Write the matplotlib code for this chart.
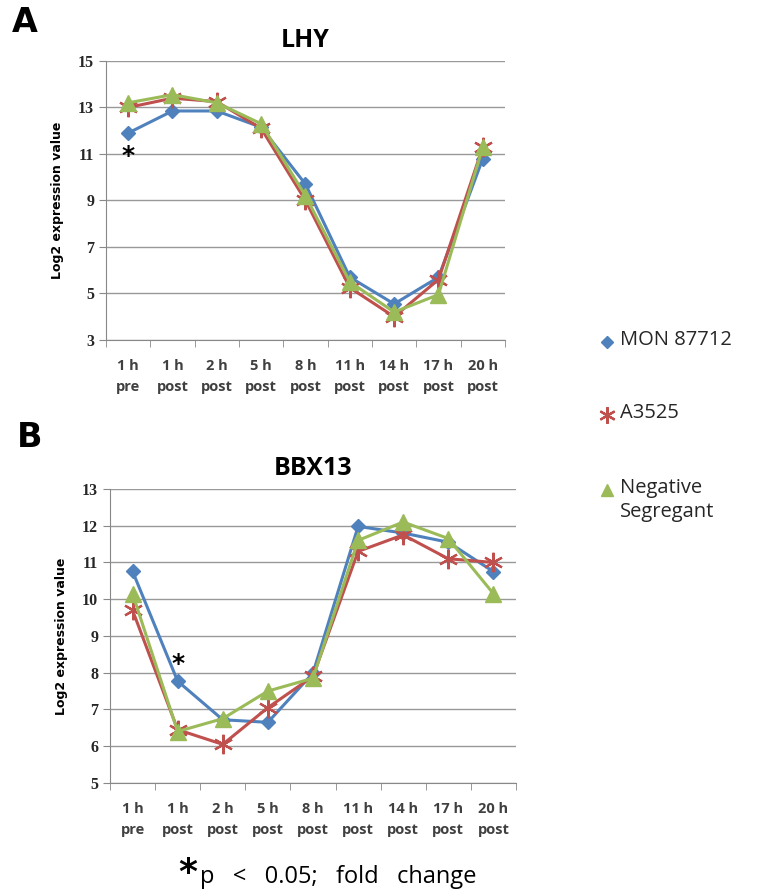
import matplotlib.pyplot as plt
from matplotlib.lines import Line2D

# Time points (two-line labels)
timepoints = ["1 h\npre", "1 h\npost", "2 h\npost", "5 h\npost", "8 h\npost",
              "11 h\npost", "14 h\npost", "17 h\npost", "20 h\npost"]
series_names = ["MON 87712", "A3525", "Negative\nSegregant"]

# LHY log2 expression
lhy_mon = [11.9, 12.85, 12.85, 12.15, 9.7, 5.7, 4.55, 5.7, 10.8]
lhy_a3525 = [13.0, 13.4, 13.25, 12.1, 9.0, 5.25, 4.0, 5.6, 11.3]
lhy_neg = [13.2, 13.55, 13.2, 12.3, 9.2, 5.5, 4.2, 4.95, 11.3]

# BBX13 log2 expression
bbx_mon = [10.76, 7.77, 6.72, 6.65, 7.99, 11.98, 11.8, 11.55, 10.75]
bbx_a3525 = [9.7, 6.45, 6.05, 7.05, 7.9, 11.3, 11.75, 11.1, 11.0]
bbx_neg = [10.15, 6.4, 6.75, 7.5, 7.85, 11.6, 12.1, 11.65, 10.15]

# significant points: (time index, y position of the star)
lhy_sig = (0, 10.9)
bbx_sig = (1, 8.25)

colors = ["#4F81BD", "#C0504D", "#9BBB59"]
markers = ["D", (6, 2, 0), "^"]
msizes = [7.5, 14, 11]
mews = [1.0, 1.6, 1.0]

plt.rcParams['font.family'] = ['Open Sans', 'DejaVu Sans']

fig = plt.figure(figsize=(7.58, 8.94), dpi=100)


def draw_panel(ax, data, ymin, ymax, step, title, sig):
    x = list(range(len(timepoints)))
    for vals, c, m, ms, mew in zip(data, colors, markers, msizes, mews):
        ax.plot(x, vals, color=c, lw=2.2, marker=m, ms=ms,
                markerfacecolor=c, markeredgecolor=c, markeredgewidth=mew)
    ax.set_xlim(-0.5, len(timepoints) - 0.5)
    ax.set_ylim(ymin, ymax)
    ax.set_yticks(range(ymin, ymax + 1, step))
    ax.set_xticks(x)
    ax.set_xticklabels(timepoints, fontsize=10.5, fontweight='bold',
                       color='#404040', linespacing=1.6)
    ax.set_xticks([i - 0.5 for i in range(len(timepoints) + 1)], minor=True)
    ax.tick_params(axis='x', which='major', length=0, pad=14)
    ax.tick_params(axis='x', which='minor', length=5, color='#888888')
    ax.tick_params(axis='y', length=5, color='#888888', labelsize=11.5)
    for lab in ax.get_yticklabels():
        lab.set_fontweight('bold')
        lab.set_family(['Liberation Serif'])
        lab.set_color('#262626')
    ax.grid(axis='y', color='#999999', lw=1.0)
    ax.set_axisbelow(True)
    for s in ['top', 'right']:
        ax.spines[s].set_visible(False)
    for s in ['left', 'bottom']:
        ax.spines[s].set_color('#888888')
    ax.set_ylabel("Log2 expression value", fontsize=9, fontweight='bold',
                  family=['DejaVu Sans'], labelpad=10)
    ax.set_title(title, fontsize=18, fontweight='bold', pad=10)
    ax.text(sig[0], sig[1], "*", fontsize=18, fontweight='bold',
            ha='center', va='center', family=['DejaVu Sans'])


axA = fig.add_axes([0.1398, 0.6197, 0.5264, 0.3121])
draw_panel(axA, [lhy_mon, lhy_a3525, lhy_neg], 3, 15, 2, "LHY", lhy_sig)

axB = fig.add_axes([0.1451, 0.1242, 0.5356, 0.3289])
draw_panel(axB, [bbx_mon, bbx_a3525, bbx_neg], 5, 13, 1, "BBX13", bbx_sig)

fig.text(0.015, 0.975, "A", fontsize=24, fontweight='bold', va='center',
         family=['DejaVu Sans'])
fig.text(0.022, 0.511, "B", fontsize=24, fontweight='bold', va='center',
         family=['DejaVu Sans'])

# legend drawn in figure coordinates
leg_y = [342, 415, 490]
for name, c, m, ms, mew, yp in zip(series_names, colors, markers, msizes,
                                   mews, leg_y):
    fy = 1 - yp / 894
    fig.add_artist(Line2D([607 / 758], [fy], marker=m, ms=ms * 0.85, color=c,
                          markeredgewidth=mew, linestyle='none',
                          transform=fig.transFigure))
    fig.text(620 / 758, fy + 0.013, name, fontsize=14.5, color='#262626',
             va='top', ha='left', linespacing=1.25)

fig.text(0.235, 0.004, "*", fontsize=26, fontweight='bold', ha='left',
         va='bottom', family=['DejaVu Sans'])
fig.text(0.264, 0.006, "p   <   0.05;   fold   change", fontsize=17,
         ha='left', va='bottom')

fig.savefig("out.png", dpi=100)
